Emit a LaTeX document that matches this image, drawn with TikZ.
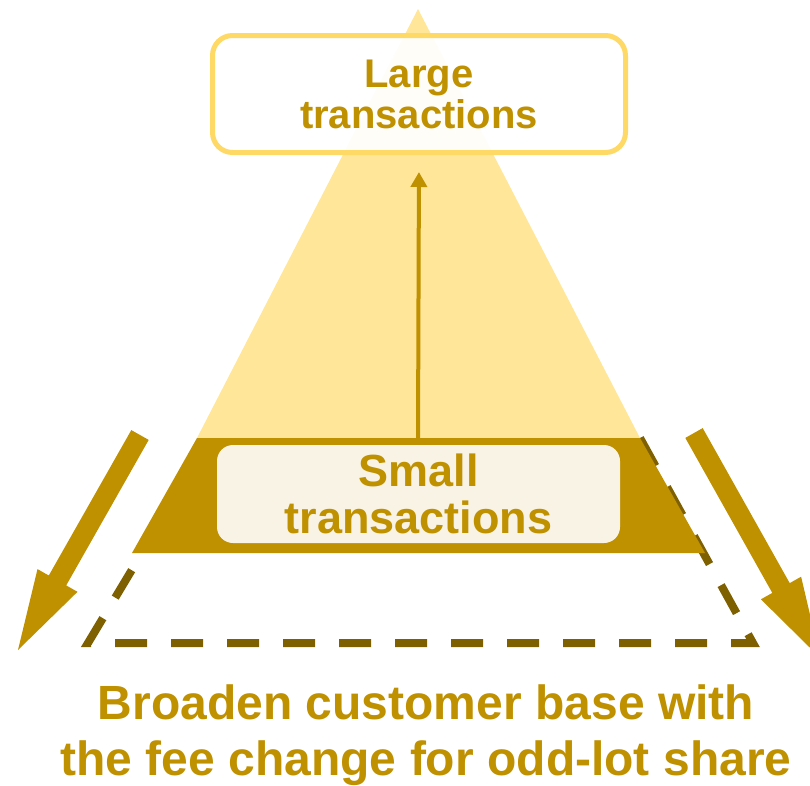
\documentclass[tikz,border=0pt]{standalone}
\usepackage{fontspec}
\setmainfont{Liberation Sans}
\usetikzlibrary{arrows.meta}
\definecolor{gold}{HTML}{BF9000}
\definecolor{lightgold}{HTML}{FFE699}
\definecolor{boxborder}{HTML}{FFD966}
\definecolor{darkolive}{HTML}{7F6000}
\definecolor{cream}{RGB}{248,243,228}
\tikzset{
  lbl/.style={text=gold, font=\bfseries, align=center, inner sep=0pt},
  bigarrow/.style={fill=gold, draw=none},
  dashedge/.style={draw=darkolive, line width=8pt, dash pattern=on 32pt off 24pt},
  conn/.style={draw=gold, line width=4pt, -{Triangle[length=15pt,width=16pt]}}
}
\begin{document}
\begin{tikzpicture}[x=1pt,y=-1pt]
\useasboundingbox (0,0) rectangle (810,785);
\clip (0,0) rectangle (810,785);
% dashed outline (partly under the band)
\draw[dashedge] (640,438) -- (753,643) -- (88,643) -- (211,438);
% light triangle
\fill[lightgold] (418,9) -- (640,438) -- (197,438) -- cycle;
% dark band
\fill[gold] (197,438) -- (640,438) -- (705,553) -- (132,553) -- cycle;
% big arrows
\fill[bigarrow] (148.7,439.9) -- (66.2,585.4) -- (77.5,591.8) -- (18,650) -- (37.5,569.1) -- (48.8,575.5) -- (131.3,430.1) -- cycle;
\fill[bigarrow] (702.7,428.1) -- (789.7,583.1) -- (801.1,576.7) -- (820.1,657.7) -- (760.9,599.3) -- (772.3,592.9) -- (685.3,437.9) -- cycle;
% boxes
\node[lbl, draw=boxborder, line width=5pt, fill=white, fill opacity=0.93, text opacity=1,
      rounded corners=20pt, minimum width=413pt, minimum height=117pt,
      font=\bfseries\fontsize{40}{41}\selectfont] (large) at (419,94) {Large\\transactions};
\node[lbl, fill=cream, rounded corners=16pt, minimum width=403pt, minimum height=98pt,
      font=\bfseries\fontsize{45}{47}\selectfont] (small) at (418.5,494) {Small\\transactions};
\coordinate (bandtop) at (418,438);
\draw[conn, shorten >=17pt] (bandtop) -- (large.south);
% caption
\node[lbl, font=\bfseries\fontsize{48}{56}\selectfont] (caption) at (426,735.5)
  {Broaden customer base with\\the fee change for odd-lot share};
\end{tikzpicture}
\end{document}
